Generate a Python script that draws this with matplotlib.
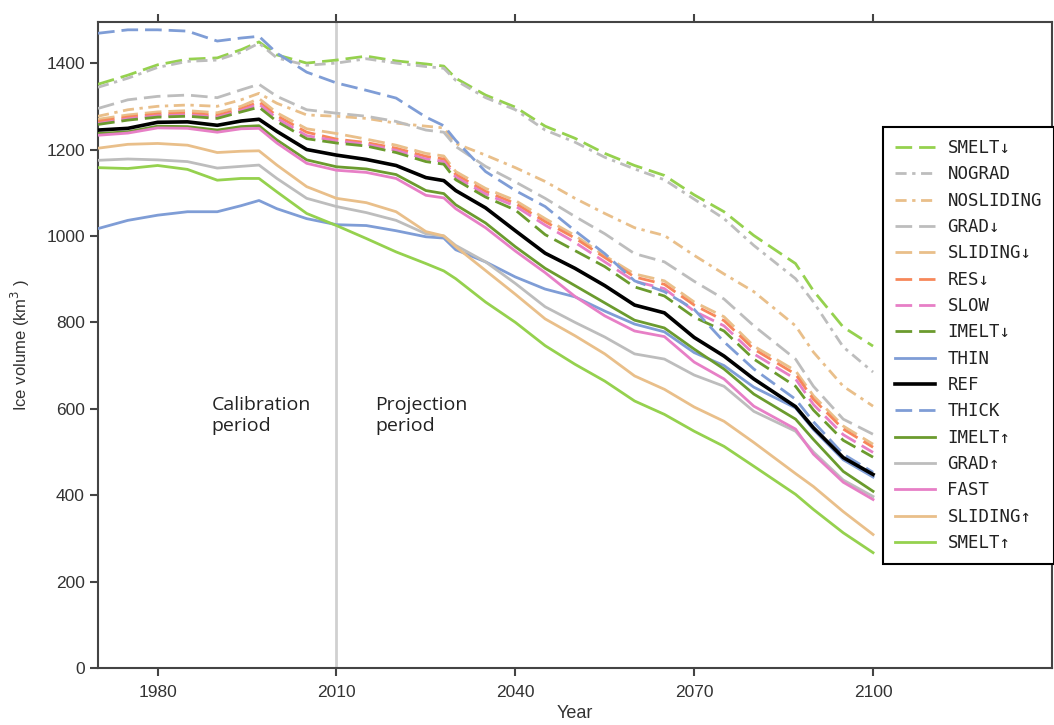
import matplotlib
matplotlib.use("Agg")
import matplotlib.pyplot as plt

years = [1970, 1975, 1980, 1985, 1990, 1994, 1997, 2000, 2005, 2010, 2015, 2020,
         2025, 2028, 2030, 2035, 2040, 2045, 2050, 2055, 2060, 2065, 2070, 2075,
         2080, 2087, 2090, 2095, 2100]

smelt_dn = [1351, 1372, 1396, 1409, 1412, 1431, 1449, 1419, 1400, 1407, 1416, 1405,
            1398, 1393, 1365, 1326, 1298, 1254, 1226, 1191, 1163, 1140, 1095, 1056,
            1001, 936, 873, 789, 745]
nograd = [1344, 1365, 1390, 1404, 1407, 1425, 1446, 1412, 1395, 1400, 1410, 1400,
          1392, 1388, 1360, 1320, 1292, 1245, 1217, 1182, 1155, 1130, 1085, 1040,
          978, 901, 847, 743, 685]
nosliding = [1277, 1292, 1300, 1303, 1300, 1315, 1330, 1307, 1280, 1277, 1272, 1261,
             1254, 1250, 1214, 1187, 1158, 1126, 1087, 1052, 1019, 1001, 955, 912,
             871, 792, 731, 652, 606]
grad_dn = [1295, 1315, 1323, 1326, 1320, 1338, 1351, 1323, 1292, 1284, 1277, 1265,
           1245, 1240, 1207, 1161, 1125, 1087, 1045, 1005, 959, 940, 895, 854,
           792, 715, 652, 576, 541]
sliding_dn = [1270, 1280, 1287, 1290, 1285, 1300, 1318, 1285, 1248, 1237, 1224, 1210,
              1191, 1185, 1149, 1110, 1082, 1040, 1001, 954, 912, 896, 847, 813,
              745, 688, 630, 560, 518]
res_dn = [1265, 1275, 1282, 1284, 1279, 1294, 1310, 1278, 1240, 1224, 1216, 1203,
          1184, 1178, 1142, 1103, 1075, 1033, 995, 950, 905, 888, 840, 804,
          738, 680, 622, 553, 511]
slow = [1260, 1271, 1278, 1280, 1275, 1290, 1305, 1272, 1232, 1220, 1212, 1198,
        1178, 1172, 1136, 1097, 1069, 1025, 985, 940, 895, 878, 826, 792,
        727, 669, 610, 540, 499]
imelt_dn = [1258, 1268, 1275, 1277, 1272, 1287, 1298, 1265, 1225, 1215, 1208, 1193,
            1172, 1166, 1130, 1090, 1060, 1003, 966, 929, 882, 861, 812, 780,
            715, 652, 597, 527, 488]
thin = [1017, 1036, 1048, 1056, 1056, 1070, 1082, 1063, 1040, 1026, 1024, 1012,
        998, 995, 968, 940, 905, 877, 859, 826, 796, 778, 730, 700,
        650, 602, 552, 482, 442]
ref = [1245, 1249, 1263, 1264, 1256, 1266, 1270, 1242, 1200, 1187, 1177, 1163,
       1135, 1128, 1105, 1065, 1012, 960, 925, 885, 840, 822, 765, 722,
       669, 605, 556, 487, 448]
thick = [1469, 1477, 1477, 1474, 1451, 1458, 1462, 1423, 1379, 1354, 1337, 1319,
         1275, 1255, 1221, 1149, 1105, 1068, 1012, 959, 896, 871, 830, 755,
         692, 622, 570, 495, 453]
imelt_up = [1237, 1241, 1254, 1253, 1245, 1253, 1255, 1222, 1176, 1160, 1155, 1142,
            1105, 1098, 1072, 1030, 975, 925, 885, 845, 805, 787, 738, 692,
            634, 576, 529, 455, 409]
grad_up = [1175, 1178, 1176, 1172, 1157, 1161, 1164, 1133, 1087, 1068, 1054, 1036,
           1005, 1000, 978, 940, 890, 836, 800, 766, 727, 715, 678, 652,
           594, 548, 500, 435, 397]
fast = [1233, 1238, 1250, 1249, 1240, 1248, 1249, 1215, 1168, 1152, 1147, 1133,
        1094, 1088, 1063, 1019, 965, 915, 860, 815, 780, 767, 708, 669,
        606, 553, 495, 430, 390]
sliding_up = [1203, 1212, 1214, 1210, 1193, 1196, 1197, 1164, 1114, 1087, 1077, 1056,
              1010, 1000, 975, 920, 865, 808, 769, 727, 676, 645, 604, 571,
              522, 450, 420, 362, 309]
smelt_up = [1158, 1156, 1163, 1154, 1129, 1133, 1133, 1102, 1052, 1024, 994, 963,
            936, 919, 901, 847, 800, 746, 703, 664, 618, 587, 548, 513,
            467, 402, 367, 313, 267]

labels = ["SMELT\u2193", "NOGRAD", "NOSLIDING", "GRAD\u2193", "SLIDING\u2193", "RES\u2193",
          "SLOW", "IMELT\u2193", "THIN", "REF", "THICK", "IMELT\u2191", "GRAD\u2191",
          "FAST", "SLIDING\u2191", "SMELT\u2191"]
series = [smelt_dn, nograd, nosliding, grad_dn, sliding_dn, res_dn, slow, imelt_dn,
          thin, ref, thick, imelt_up, grad_up, fast, sliding_up, smelt_up]

green = "#95d14e"
gray = "#bdbdbd"
tan = "#e9bf8a"
orange = "#f7875a"
pink = "#e77fc6"
olive = "#6b9b2e"
blue = "#7f9dd6"

dash = (6, 2.5)
dashdot = (4, 2, 1.2, 2)
styles = [
    (green, dash), (gray, dashdot), (tan, dashdot), (gray, dash), (tan, dash),
    (orange, dash), (pink, dash), (olive, dash), (blue, None), ("black", None),
    (blue, dash), (olive, None), (gray, None), (pink, None), (tan, None), (green, None),
]

plt.rcParams["font.family"] = ["Liberation Sans", "DejaVu Sans"]

fig = plt.figure(figsize=(10.54, 7.25), dpi=100)
ax = fig.add_axes([0.093, 0.0786, 0.905, 0.891])

ax.axvline(2010, color="#d0d0d0", lw=2, zorder=1)

for lab, vals, (col, ds) in zip(labels, series, styles):
    lw = 2.6 if lab == "REF" else 2.0
    z = 5 if lab == "REF" else 3
    line, = ax.plot(years, vals, color=col, lw=lw, label=lab, zorder=z)
    if ds is not None:
        line.set_dashes(ds)

ax.set_xlim(1970, 2130)
ax.set_ylim(0, 1495)
ax.set_xticks([1980, 2010, 2040, 2070, 2100])
ax.set_yticks(range(0, 1401, 200))

for s in ax.spines.values():
    s.set_color("#444444")
    s.set_linewidth(1.5)
ax.tick_params(axis="both", direction="out", length=6, width=1.5, color="#444444",
               labelsize=12.5, labelcolor="#333333")
ax.tick_params(axis="x", top=True, pad=6)
ax.tick_params(axis="y", right=False)

ax.set_xlabel("Year", fontsize=13, color="#333333", labelpad=4)
ax.set_ylabel("Ice volume (km$^3$ )", fontsize=12, color="#333333", labelpad=10)

ax.text(1989.0, 630, "Calibration\nperiod", fontsize=14, family="Open Sans",
        color="#222222", va="top", ha="left", linespacing=1.2)
ax.text(2016.5, 630, "Projection\nperiod", fontsize=14, family="Open Sans",
        color="#222222", va="top", ha="left", linespacing=1.2)

leg = ax.legend(loc="upper left", bbox_to_anchor=(0.838, 0.825),
                bbox_transform=fig.transFigure, borderaxespad=0,
                prop={"family": "DejaVu Sans Mono", "size": 12.5},
                handlelength=2.3, handletextpad=0.7, labelspacing=0.48,
                borderpad=0.7, fancybox=False, framealpha=1)
leg.get_frame().set_edgecolor("black")
leg.get_frame().set_linewidth(1.5)
for t in leg.get_texts():
    t.set_color("#222222")

fig.savefig("out.png", dpi=100)
